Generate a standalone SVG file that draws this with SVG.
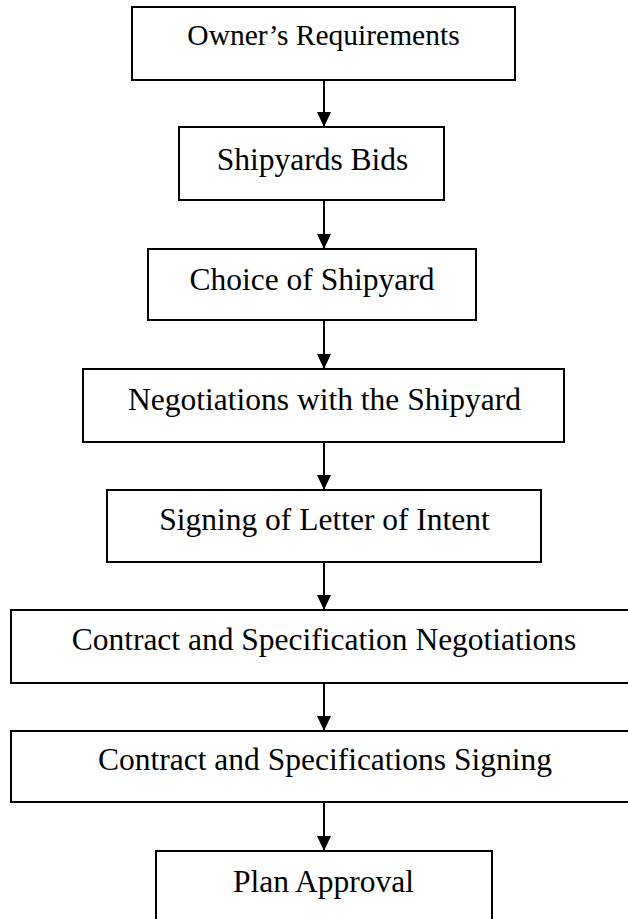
<svg xmlns="http://www.w3.org/2000/svg" width="628" height="919" viewBox="0 0 628 919">
<defs>
<style>
.box{fill:#fff;stroke:#000;stroke-width:2}
.lbl{font-family:"Liberation Serif","Times New Roman",serif;font-size:31.5px;fill:#000;text-anchor:middle}
.conn{stroke:#000;stroke-width:2;fill:none}
</style>
<marker id="ah" markerWidth="14" markerHeight="15" refX="7" refY="15" orient="auto" markerUnits="userSpaceOnUse" viewBox="0 0 14 15">
<path d="M0,0 L14,0 L7,15 Z" fill="#000" transform="rotate(-90 7 7.5)"/>
</marker>
</defs>
<rect width="628" height="919" fill="#fff"/>
<g id="connectors">
<path class="conn" d="M324,80 V126"/>
<path class="conn" d="M324,200 V248"/>
<path class="conn" d="M324,320 V368"/>
<path class="conn" d="M324,442 V489"/>
<path class="conn" d="M324,562 V609"/>
<path class="conn" d="M324,683 V730"/>
<path class="conn" d="M324,802 V850"/>
<g fill="#000">
<path d="M317,112 L331,112 L324,127 Z"/>
<path d="M317,234 L331,234 L324,249 Z"/>
<path d="M317,354 L331,354 L324,369 Z"/>
<path d="M317,475 L331,475 L324,490 Z"/>
<path d="M317,595 L331,595 L324,610 Z"/>
<path d="M317,716 L331,716 L324,731 Z"/>
<path d="M317,836 L331,836 L324,851 Z"/>
</g>
</g>
<g id="n1"><rect class="box" x="132" y="7" width="383" height="73"/><text class="lbl" x="323.5" y="45" style="font-size:29.5px">Owner’s Requirements</text></g>
<g id="n2"><rect class="box" x="179" y="127" width="265" height="73"/><text class="lbl" x="312.5" y="170">Shipyards Bids</text></g>
<g id="n3"><rect class="box" x="148" y="249" width="328" height="71"/><text class="lbl" x="312" y="290">Choice of Shipyard</text></g>
<g id="n4"><rect class="box" x="83" y="369" width="481" height="73"/><text class="lbl" x="324.5" y="410">Negotiations with the Shipyard</text></g>
<g id="n5"><rect class="box" x="107" y="490" width="434" height="72"/><text class="lbl" x="324.5" y="530">Signing of Letter of Intent</text></g>
<g id="n6"><rect class="box" x="11" y="610" width="628" height="73"/><text class="lbl" x="324" y="650">Contract and Specification Negotiations</text></g>
<g id="n7"><rect class="box" x="11" y="731" width="628" height="71"/><text class="lbl" x="325" y="770">Contract and Specifications Signing</text></g>
<g id="n8"><rect class="box" x="156" y="851" width="336" height="72"/><text class="lbl" x="323.5" y="892">Plan Approval</text></g>
</svg>
